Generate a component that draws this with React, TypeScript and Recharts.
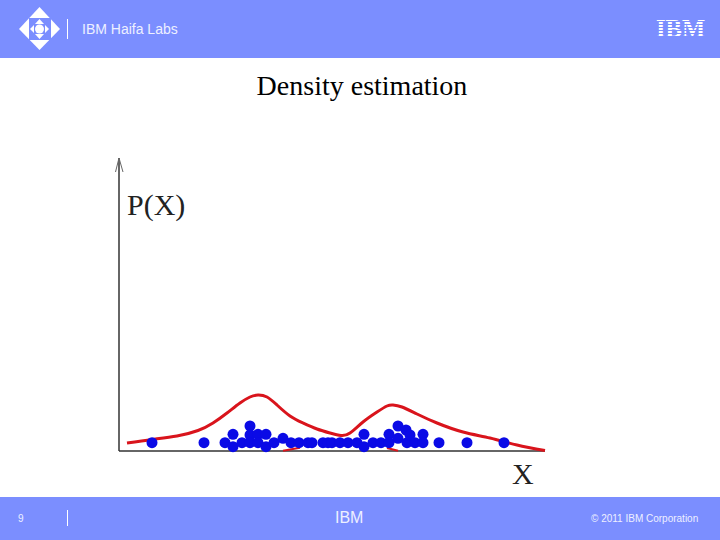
import { ComposedChart, Line, ReferenceLine, Scatter, XAxis, YAxis } from "recharts";

// X runs 0-426, P(X) runs 0-293
const curveX = [8, 33, 58, 79, 94, 108, 121, 131, 139, 148, 158, 171, 184, 198, 211, 222, 231, 244, 258, 268, 274, 283, 298, 318, 344, 371, 398, 426];
const curveP = [8, 11.5, 15, 20.5, 28, 38, 48, 54, 56, 54, 46, 35, 28, 22, 18, 15.5, 18, 29, 39, 45, 46, 44, 37, 28, 19, 13, 6, 0.5];

const sampleX = [33, 85, 106, 114, 114, 123, 131, 131, 131, 139, 139, 147, 147, 155, 164, 172, 180, 189, 193, 204, 209, 213, 221, 229, 238, 245, 245, 254, 262, 270, 270, 279, 279, 287, 288, 291, 296, 304, 304, 320, 348, 385];
const sampleP = [8.3, 8.3, 8.3, 16.7, 4.3, 8.3, 25, 16, 8.3, 16.7, 8.3, 16.7, 4.3, 8.3, 12.7, 8.3, 8.3, 8.3, 8.3, 8.3, 8.3, 8.3, 8.3, 8.3, 8.3, 16.7, 4.3, 8.3, 8.3, 16.7, 8.3, 25, 12.7, 21, 8.3, 16, 8.3, 16.7, 8.3, 8.3, 8.3, 8.3];

const stubAX = [164, 181];
const stubAP = [0.3, 3.3];
const stubBX = [268, 279];
const stubBP = [3, 0.3];
const arrowX = [-3.5, 0, 4];
const arrowP = [279, 293, 279];

const zip = (xs: number[], ys: number[]) => xs.map((x, i) => ({ x, p: ys[i] }));

const BAND = "#7b8eff";
const RED = "#d9141c";
const AXIS = "#333";
const SANS = "'Liberation Sans', Arial, sans-serif";
const SERIF = "'Liberation Serif', 'Times New Roman', serif";

function Dot(props: any) {
  return <circle cx={props.cx} cy={props.cy} r={5.5} fill="#0a0ae6" />;
}

function Slide() {
  return (
    <svg width={720} height={540} style={{ position: "absolute", left: 0, top: 0 }}>
      <rect x={0} y={0} width={720} height={58} fill={BAND} />
      <rect x={0} y={497} width={720} height={43} fill={BAND} />

      {/* logo */}
      <polygon points="39.5,7 60,29 39.5,50 19,29" fill="#fff" />
      <rect x={29} y={18} width={22} height={22} fill={BAND} />
      <polygon points="39.5,19 44,24 35,24" fill="#fff" />
      <polygon points="39.5,39 44,34 35,34" fill="#fff" />
      <polygon points="30,29 34,25 34,33" fill="#fff" />
      <polygon points="49,29 45,25 45,33" fill="#fff" />
      <circle cx={39.5} cy={29} r={4.5} fill="#fff" />
      <line x1={67.5} y1={19} x2={67.5} y2={39} stroke="#fff" />

      <text x={82} y={34} fontFamily={SANS} fontSize={14} fill="#eef0ff">IBM Haifa Labs</text>

      {/* striped IBM mark */}
      <text x={656} y={37} fontFamily={SERIF} fontWeight="bold" fontSize={25} fill="#fff" textLength={49} lengthAdjust="spacingAndGlyphs">IBM</text>
      {[21, 24, 27, 30, 33, 36].map((y) => (
        <rect key={y} x={654} y={y} width={53} height={1} fill={BAND} />
      ))}

      <text x={362} y={95} textAnchor="middle" fontFamily={SERIF} fontSize={28} fill="#000">Density estimation</text>

      <text x={127} y={215} fontFamily={SERIF} fontSize={30} fill="#222">P(X)</text>
      <text x={512} y={484} fontFamily={SERIF} fontSize={30} fill="#222">X</text>

      <text x={18} y={522} fontFamily={SANS} fontSize={10} fill="#eef0ff">9</text>
      <line x1={67.5} y1={510} x2={67.5} y2={526} stroke="#fff" />
      <text x={335} y={523} fontFamily={SANS} fontSize={16} fill="#eef0ff">IBM</text>
      <text x={591} y={522} fontFamily={SANS} fontSize={10} fill="#eef0ff">© 2011 IBM Corporation</text>
    </svg>
  );
}

export default function App() {
  return (
    <div style={{ position: "absolute", left: 0, top: 0, width: 720, height: 540, background: "#fff" }}>
      <Slide />
      <div style={{ position: "absolute", left: 0, top: 0 }}>
        {/* domain starts at -6 so the arrow wing left of the axis stays inside the plot */}
        <ComposedChart width={720} height={540} margin={{ left: 113, right: 175, top: 158, bottom: 89 }}>
          <XAxis type="number" dataKey="x" domain={[-6, 426]} hide />
          <YAxis type="number" dataKey="p" domain={[0, 293]} hide />
          <ReferenceLine segment={[{ x: 0, y: 0 }, { x: 0, y: 293 }]} stroke={AXIS} strokeWidth={1.5} />
          <ReferenceLine segment={[{ x: 0, y: 0 }, { x: 426, y: 0 }]} stroke={AXIS} strokeWidth={1.5} />
          <Line data={zip(arrowX, arrowP)} dataKey="p" stroke="#666" strokeWidth={1} dot={false} isAnimationActive={false} />
          <Line data={zip(curveX, curveP)} dataKey="p" type="natural" stroke={RED} strokeWidth={3} dot={false} isAnimationActive={false} />
          <Line data={zip(stubAX, stubAP)} dataKey="p" stroke={RED} strokeWidth={2} dot={false} isAnimationActive={false} />
          <Line data={zip(stubBX, stubBP)} dataKey="p" stroke={RED} strokeWidth={2} dot={false} isAnimationActive={false} />
          <Scatter data={zip(sampleX, sampleP)} dataKey="p" shape={Dot} isAnimationActive={false} />
        </ComposedChart>
      </div>
    </div>
  );
}
